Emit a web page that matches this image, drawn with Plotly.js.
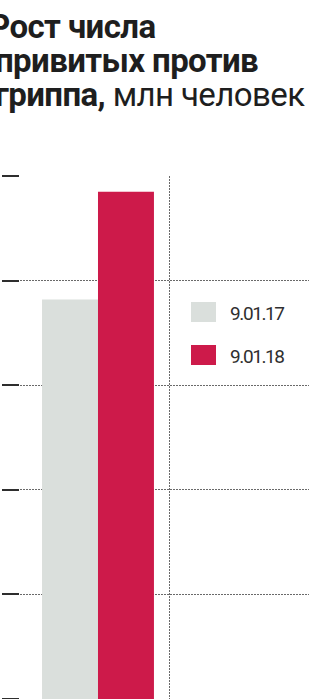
<!DOCTYPE html>
<html>
<head>
<meta charset="utf-8">
<script src="https://cdn.plot.ly/plotly-3.0.1.min.js"></script>
<style>
  html, body { margin: 0; padding: 0; background: #ffffff; }
  #chart { width: 319px; height: 699px; }
</style>
</head>
<body>
<div id="chart"></div>
<script>
// ---- data ----
const categories = ["Привито"];
const seriesNames = ["9.01.17", "9.01.18"];
const values2017 = [38.2];
const values2018 = [48.5];
const yTickValues = [0, 10, 20, 30, 40, 50];
const titleLines = ["<b>Рост числа</b>", "<b>привитых против</b>", "<b>гриппа,</b> млн человек"];

// ---- layout geometry ----
const W = 319, H = 699;
const M = { l: 20, r: 10, t: 176, b: 0 };
const PW = W - M.l - M.r, PH = H - M.t - M.b;
const px2x = p => (p - M.l) / PW;
const px2y = p => (H - M.b - p) / PH;

const colors = ["#dadfdc", "#cd1a4a"];
const xIdx = categories.map((_, i) => i);

const traces = [
  { type: "bar", name: seriesNames[0], x: xIdx, y: values2017,
    marker: { color: colors[0] }, hoverinfo: "skip" },
  { type: "bar", name: seriesNames[1], x: xIdx, y: values2018,
    marker: { color: colors[1] }, hoverinfo: "skip" }
];

const titleRight = [157, 260, 307];
const titleY = [26, 61, 94];
const annotations = titleLines.map((t, i) => ({
  text: '<span style="letter-spacing:-0.6px">' + t + '</span>',
  xref: "paper", yref: "paper",
  x: px2x(titleRight[i]), y: px2y(titleY[i]),
  xanchor: "right", yanchor: "middle", showarrow: false,
  font: { family: "Roboto, sans-serif", size: 33, color: "#1e1e1e" }
}));

const legTop = [302, 345];
const shapes = [];
seriesNames.forEach((n, i) => {
  shapes.push({ type: "rect", xref: "paper", yref: "paper",
    x0: px2x(191), x1: px2x(216), y0: px2y(legTop[i] + 20), y1: px2y(legTop[i]),
    fillcolor: colors[i], line: { width: 0 } });
  annotations.push({ text: '<span style="letter-spacing:-1.4px">' + n + '</span>',
    xref: "paper", yref: "paper",
    x: px2x(228), y: px2y(legTop[i] + 11), xanchor: "left", yanchor: "middle",
    showarrow: false,
    font: { family: "Roboto, sans-serif", size: 19, color: "#2f2f2f" } });
});

const layout = {
  width: W, height: H,
  margin: M,
  paper_bgcolor: "#ffffff", plot_bgcolor: "#ffffff",
  showlegend: false,
  barmode: "group", bargap: 0.215, bargroupgap: 0,
  xaxis: {
    type: "linear", range: [-0.547, 1.48],
    tickvals: [0.5], showticklabels: false, ticks: "",
    showgrid: true, gridcolor: "#6a6a6a", gridwidth: 1, griddash: "2px,1px",
    zeroline: false, showline: false, fixedrange: true
  },
  yaxis: {
    range: [0, 50], tickvals: yTickValues, showticklabels: false,
    ticks: "outside", ticklen: 17, tickwidth: 2, tickcolor: "#2e2e2e",
    showgrid: true, gridcolor: "#6a6a6a", gridwidth: 1, griddash: "2px,1px",
    zeroline: false, showline: false, fixedrange: true
  },
  annotations: annotations,
  shapes: shapes
};

Plotly.newPlot("chart", traces, layout, { displayModeBar: false, staticPlot: true });
</script>
</body>
</html>
